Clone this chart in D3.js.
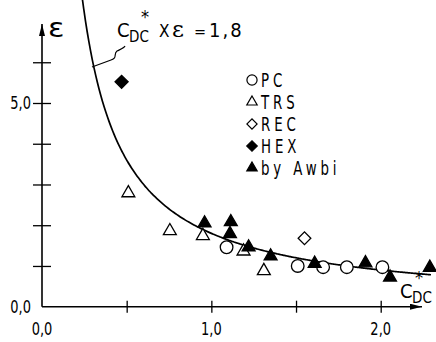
<!DOCTYPE html>
<html>
<head>
<meta charset="utf-8">
<script src="https://cdn.jsdelivr.net/npm/d3@7"></script>
<style>
  body { margin: 0; background: #fff; }
  text { font-family: "Liberation Sans Narrow", "DejaVu Sans Condensed", "Arial Narrow", sans-serif; fill: #000; }
</style>
</head>
<body>
<svg id="chart" width="436" height="342"></svg>
<script>
// C*DC x eps = K
const K = 1.8;
const kLabel = "1,8";

// series: [C*DC, eps]
const pc    = [[1.09, 1.46], [1.51, 1.00], [1.66, 0.97], [1.80, 0.97], [2.01, 0.97]];
const trs   = [[0.51, 2.79], [0.755, 1.86], [0.95, 1.74], [1.19, 1.36], [1.31, 0.88]];
const rec   = [[1.55, 1.68]];
const hex   = [[0.47, 5.52]];
const awbi  = [[0.96, 2.05], [1.115, 2.08], [1.11, 1.79], [1.22, 1.46], [1.35, 1.24],
               [1.61, 1.06], [1.91, 1.07], [2.055, 0.72], [2.29, 0.96]];

const xTicks = [0.5, 1.0, 1.5, 2.0];
const xLabels = [0.0, 1.0, 2.0];
const yTicks = [1, 2, 3, 4, 5, 6];
const yLabels = [0.0, 5.0];
const legendNames = ["PC", "TRS", "REC", "HEX", "by Awbi"];

let chart = d3.select("#chart");

let x = d3.scaleLinear().domain([0, 2]).range([42, 380.7]);
let y = d3.scaleLinear().domain([0, 5]).range([306.7, 103]);

// arrow heads
let defs = chart.append("defs");
defs.append("marker")
    .attr("id", "arr")
    .attr("viewBox", "0 0 12 6")
    .attr("refX", 12).attr("refY", 3)
    .attr("markerWidth", 12).attr("markerHeight", 6)
    .attr("markerUnits", "userSpaceOnUse")
    .attr("orient", "auto")
  .append("path")
    .attr("d", "M0,0 L12,3 L0,6 Z")
    .attr("fill", "#000");

// x axis
let xAxis = chart.append("g")
    .attr("transform", "translate(0," + y(0) + ")")
    .call(d3.axisBottom(x).tickValues(xTicks).tickSize(6).tickFormat(""));
xAxis.select(".domain").remove();
xAxis.selectAll(".tick line").attr("y1", -6).attr("y2", 6).attr("stroke", "#000").attr("stroke-width", 1.3);
chart.append("line")
    .attr("x1", x(0)).attr("x2", 422)
    .attr("y1", y(0)).attr("y2", y(0))
    .attr("stroke", "#000").attr("stroke-width", 1.6)
    .attr("marker-end", "url(#arr)");

// y axis
let yAxis = chart.append("g")
    .attr("transform", "translate(" + x(0) + ",0)")
    .call(d3.axisLeft(y).tickValues(yTicks).tickSize(8).tickFormat(""));
yAxis.select(".domain").remove();
yAxis.selectAll(".tick line").attr("x1", -9).attr("x2", 9).attr("stroke", "#000").attr("stroke-width", 1.3);
chart.append("line")
    .attr("x1", x(0)).attr("x2", x(0))
    .attr("y1", y(0)).attr("y2", 24)
    .attr("stroke", "#000").attr("stroke-width", 1.6)
    .attr("marker-end", "url(#arr)");

// tick labels
chart.selectAll(".xlab")
    .data(xLabels).enter()
    .append("text")
      .attr("transform", d => "translate(" + x(d) + ",335) scale(0.85,1)")
      .attr("text-anchor", "middle")
      .attr("font-size", 17)
      .text(d => d.toFixed(1).replace(".", ","));
chart.selectAll(".ylab")
    .data(yLabels).enter()
    .append("text")
      .attr("transform", d => "translate(31," + (y(d) + 6) + ") scale(0.85,1)")
      .attr("text-anchor", "end")
      .attr("font-size", 17)
      .text(d => d.toFixed(1).replace(".", ","));

// axis titles
chart.append("text").attr("transform", "translate(48,37) scale(1.3,1)")
    .attr("font-size", 26).attr("font-family", "DejaVu Serif").text("ε");
let xt = chart.append("text").attr("font-size", 20);
xt.append("tspan").attr("x", 400).attr("y", 298).text("C");
xt.append("tspan").attr("x", 412).attr("y", 303).attr("font-size", 15).text("DC");
chart.append("text").attr("x", 419).attr("y", 284).attr("text-anchor", "middle")
    .attr("font-size", 18).text("*");

// curve C*DC x eps = K
let cs = d3.range(K / 7.6, 2.3, 0.01);
let line = d3.line().x(d => x(d)).y(d => y(K / d)).curve(d3.curveBasis);
chart.append("path")
    .attr("d", line(cs))
    .attr("fill", "none").attr("stroke", "#000").attr("stroke-width", 1.7);

// curve label and leader
let lab = chart.append("text").attr("font-size", 20);
lab.append("tspan").attr("x", 117).attr("y", 37).text("C");
lab.append("tspan").attr("x", 129).attr("y", 42).attr("font-size", 15).text("DC");
lab.append("tspan").attr("x", 159).attr("y", 37).attr("font-size", 17).text("X");
lab.append("tspan").attr("x", 172).attr("font-family", "DejaVu Serif").attr("font-size", 23).text("ε");
lab.append("tspan").attr("x", 194).attr("font-size", 16).text("=");
lab.append("tspan").attr("x", 209).attr("letter-spacing", 2).text(kLabel);
chart.append("text").attr("x", 145).attr("y", 23).attr("text-anchor", "middle")
    .attr("font-size", 18).text("*");
chart.append("path")
    .attr("d", "M92,67 L111,60 C118,58 113,54 117,51 C121,49 124,48 125,46")
    .attr("fill", "none").attr("stroke", "#000").attr("stroke-width", 1.2);

// symbols
const sym = {
  pc:   d3.symbol().type(d3.symbolCircle).size(125),
  trs:  d3.symbol().type(d3.symbolTriangle).size(72),
  rec:  d3.symbol().type(d3.symbolSquare).size(80),
  hex:  d3.symbol().type(d3.symbolSquare).size(85),
  awbi: d3.symbol().type(d3.symbolTriangle).size(72)
};
const series = [
  {key: "pc", data: pc, fill: "none"},
  {key: "trs", data: trs, fill: "none"},
  {key: "rec", data: rec, fill: "none"},
  {key: "hex", data: hex, fill: "#000"},
  {key: "awbi", data: awbi, fill: "#000"}
];
function rot(k){ return (k == "rec" || k == "hex") ? " rotate(45)" : ""; }

series.forEach(function(s){
  chart.append("g").selectAll("path")
    .data(s.data).enter()
    .append("path")
      .attr("d", sym[s.key]())
      .attr("transform", d => "translate(" + x(d[0]) + "," + y(d[1]) + ")" + rot(s.key))
      .attr("fill", s.fill == "none" ? "#fff" : s.fill)
      .attr("stroke", "#000").attr("stroke-width", 1.3);
});

// legend
let legend = chart.append("g");
series.forEach(function(s, i){
  let ly = 80 + i * 22;
  legend.append("path")
      .attr("d", sym[s.key].size(sym[s.key].size()() * 0.65)())
      .attr("transform", "translate(252," + ly + ")" + rot(s.key))
      .attr("fill", s.fill == "none" ? "#fff" : s.fill)
      .attr("stroke", "#000").attr("stroke-width", 1.2);
  legend.append("text")
      .attr("transform", "translate(261," + (ly + 7) + ") scale(0.78,1)")
      .attr("font-size", 19).attr("letter-spacing", 5)
      .text(legendNames[i]);
});
</script>
</body>
</html>
